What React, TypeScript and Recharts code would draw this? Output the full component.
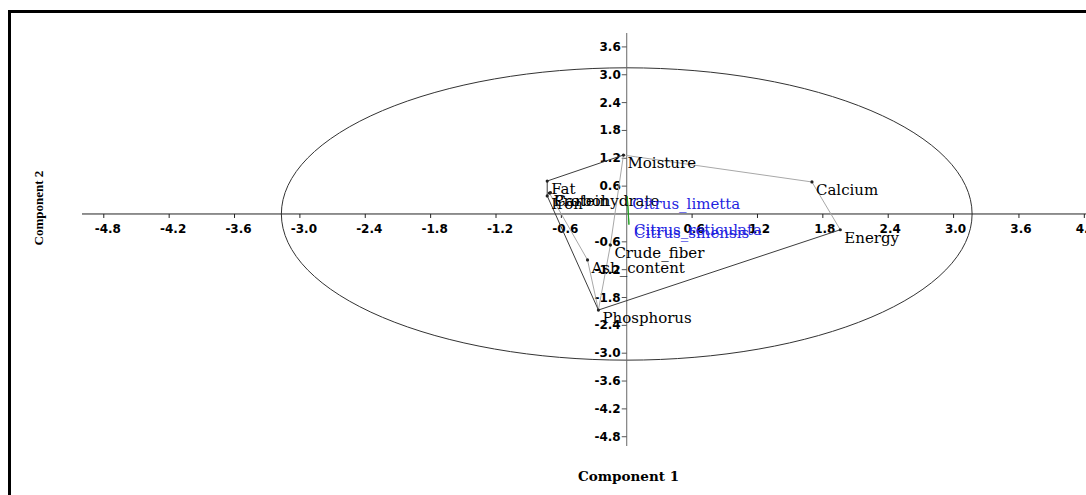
import {
  ScatterChart, Scatter, XAxis, YAxis, ReferenceLine, ReferenceDot, ReferenceArea,
} from 'recharts'

// loadings of the variables on the first two components
const variableNames = [
  'Moisture', 'Calcium', 'Energy', 'Fat', 'Protein', 'Carbohydrate',
  'Iron', 'Crude_fiber', 'Ash_content', 'Phosphorus',
]
const comp1 = [-0.03, 1.70, 1.96, -0.73, -0.71, -0.70, -0.73, -0.15, -0.36, -0.26]
const comp2 = [1.27, 0.69, -0.34, 0.71, 0.45, 0.46, 0.39, -0.67, -0.99, -2.07]

// scores of the samples
const speciesNames = ['Citrus_limetta', 'Citrus_reticulata', 'Citrus_sinensis']
const speciesComp1 = [0.005, 0.02, 0.02]
const speciesComp2 = [0.38, -0.17, -0.23]

// hull outlines, as sequences of names
const darkHull = ['Moisture', 'Fat', 'Iron', 'Phosphorus', 'Energy']
const lightHull = ['Energy', 'Calcium', 'Moisture', 'Crude_fiber', 'Phosphorus']
const innerPath = ['Protein', 'Ash_content', 'Phosphorus']
const speciesHull = ['Citrus_limetta', 'Citrus_sinensis', 'Citrus_reticulata', 'Citrus_limetta']

const xTicks = [-4.8, -4.2, -3.6, -3.0, -2.4, -1.8, -1.2, -0.6, 0.6, 1.2, 1.8, 2.4, 3.0, 3.6, 4.2]
const yTicks = [3.6, 3.0, 2.4, 1.8, 1.2, 0.6, -0.6, -1.2, -1.8, -2.4, -3.0, -3.6, -4.2, -4.8]

const ellipseRx = 3.17
const ellipseRy = 3.15

const varPoints = variableNames.map((name, i) => ({ name, x: comp1[i], y: comp2[i] }))
const speciesPoints = speciesNames.map((name, i) => ({ name, x: speciesComp1[i], y: speciesComp2[i] }))
const pick = (names: string[], pts: { name: string; x: number; y: number }[]) =>
  names.map((n) => pts.find((p) => p.name === n)!)

const tickFont = { fontFamily: 'DejaVu Sans', fontSize: 12, fontWeight: 700 as const }
const fmt = (v: number) => v.toFixed(1)

const Empty = () => <g />

const VarMarker = (props: any) => {
  const { cx, cy, payload } = props
  return (
    <g>
      <circle cx={cx} cy={cy} r={1.6} fill="#222" />
      <text x={cx + 4} y={cy + 8} dominantBaseline="central" fontFamily="DejaVu Serif" fontSize={15} fill="#000">
        {payload.name}
      </text>
    </g>
  )
}

const SpeciesMarker = (props: any) => {
  const { cx, cy, payload } = props
  return (
    <text x={cx + 5} y={cy + 8} dominantBaseline="central" fontFamily="DejaVu Serif" fontSize={15} fill="#1f1fe0">
      {payload.name}
    </text>
  )
}

const XTick = (v: number) => (p: any) => (
  <g>
    <line x1={p.cx} y1={p.cy} x2={p.cx} y2={p.cy + 4} stroke="#222" />
    <text x={p.cx + (v < 0 ? 4 : 2)} y={p.cy + 15} textAnchor="middle" dominantBaseline="central" {...tickFont} fill="#000">
      {fmt(v)}
    </text>
  </g>
)

const YTick = (v: number) => (p: any) => (
  <g>
    <line x1={p.cx - 5} y1={p.cy} x2={p.cx} y2={p.cy} stroke="#555" />
    <text x={p.cx - 6} y={p.cy} textAnchor="end" dominantBaseline="central" {...tickFont} fill="#000">
      {fmt(v)}
    </text>
  </g>
)

export default function App() {
  return (
    <div
      style={{
        position: 'fixed', left: 8, top: 10, width: 1080, height: 485,
        borderTop: '3px solid #000', borderLeft: '3px solid #000', overflow: 'hidden', background: '#fff',
      }}
    >
      <ScatterChart width={1120} height={485} margin={{ top: 20, right: 14, left: 71, bottom: 52 }}>
        <XAxis type="number" dataKey="x" domain={[-5.0, 4.5]} hide />
        <YAxis type="number" dataKey="y" domain={[-5.0, 3.9]} hide />
        <ReferenceArea
          x1={-ellipseRx} x2={ellipseRx} y1={-ellipseRy} y2={ellipseRy}
          shape={(p: any) => (
            <ellipse
              cx={p.x + p.width / 2} cy={p.y + p.height / 2}
              rx={p.width / 2} ry={p.height / 2}
              fill="none" stroke="#333" strokeWidth={1}
            />
          )}
        />
        <ReferenceLine y={0} stroke="#222" strokeWidth={1} />
        <ReferenceLine x={0} stroke="#666" strokeWidth={1} />
        {xTicks.map((t) => (
          <ReferenceDot key={`x${t}`} x={t} y={0} r={0} shape={XTick(t)} />
        ))}
        {yTicks.map((t) => (
          <ReferenceDot key={`y${t}`} x={0} y={t} r={0} shape={YTick(t)} />
        ))}
        <Scatter data={pick(lightHull, varPoints)} line={{ stroke: '#a8a8a8', strokeWidth: 1 }} shape={Empty} isAnimationActive={false} />
        <Scatter data={pick(innerPath, varPoints)} line={{ stroke: '#a8a8a8', strokeWidth: 1 }} shape={Empty} isAnimationActive={false} />
        <Scatter data={pick(darkHull, varPoints)} line={{ stroke: '#3c3c3c', strokeWidth: 1 }} shape={Empty} isAnimationActive={false} />
        <Scatter data={pick(speciesHull, speciesPoints)} line={{ stroke: '#22a022', strokeWidth: 1 }} shape={Empty} isAnimationActive={false} />
        <Scatter data={varPoints} shape={VarMarker} isAnimationActive={false} />
        <Scatter data={speciesPoints} shape={SpeciesMarker} isAnimationActive={false} />
      </ScatterChart>
      <div
        style={{
          position: 'absolute', left: 567, top: 455, width: 100, textAlign: 'center',
          fontFamily: 'DejaVu Serif', fontWeight: 700, fontSize: 13.5, whiteSpace: 'nowrap',
        }}
      >
        Component 1
      </div>
      <div
        style={{
          position: 'absolute', left: 28, top: 195, width: 0, height: 0,
        }}
      >
        <div
          style={{
            position: 'absolute', left: 0, top: 0, transform: 'translate(-50%, -50%) rotate(-90deg)',
            fontFamily: 'Liberation Serif', fontWeight: 700, fontSize: 13, whiteSpace: 'nowrap',
          }}
        >
          Component 2
        </div>
      </div>
    </div>
  )
}
